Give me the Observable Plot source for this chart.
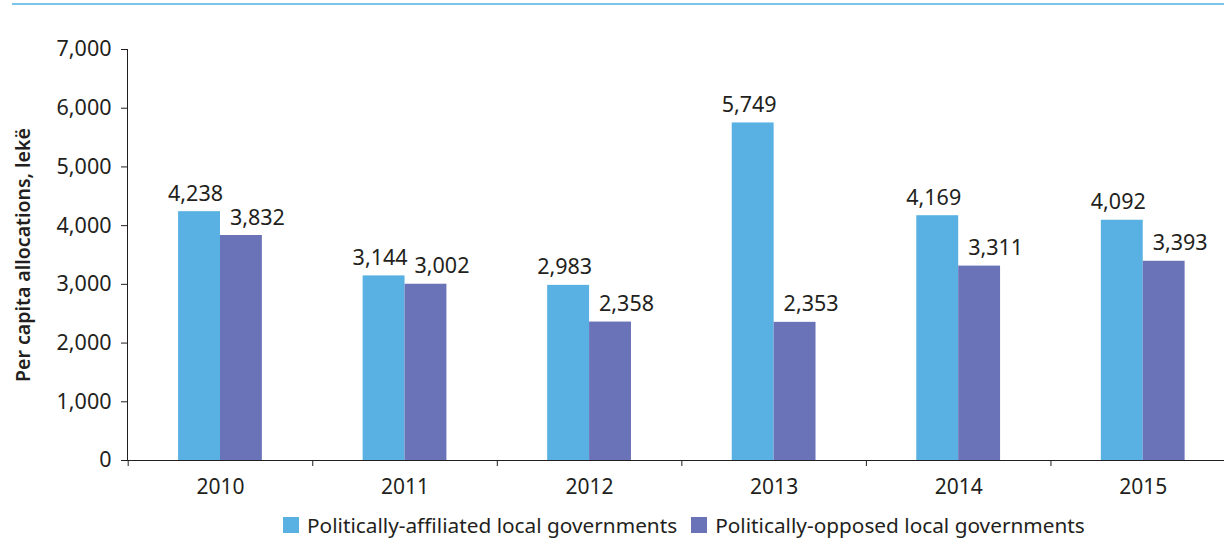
<!DOCTYPE html>
<html>
<head>
<meta charset="utf-8">
<script src="https://cdn.jsdelivr.net/npm/d3@7"></script>
<script src="https://cdn.jsdelivr.net/npm/@observablehq/plot@0.6"></script>
<style>
  html, body { margin: 0; padding: 0; background: #fff; overflow: hidden; }
  body { width: 1224px; height: 554px; position: relative; font-family: "Noto Sans", "Open Sans", sans-serif; color: #231f20; }
  #topline { position: absolute; left: 12px; top: 3px; width: 1212px; height: 2px; background: #7cc5ea; }
  #chart { position: absolute; left: 0; top: 0; }
  #legend { position: absolute; left: 283px; top: 511px; display: flex; gap: 14px; font-size: 20.8px; white-space: nowrap; }
  #legend .item { display: flex; align-items: center; gap: 8px; }
  #legend .sw { width: 16px; height: 16px; display: inline-block; }
</style>
</head>
<body>
<div id="topline"></div>
<div id="chart"></div>
<div id="legend"></div>
<script>
const years = [2010, 2011, 2012, 2013, 2014, 2015];
const seriesNames = ["Politically-affiliated local governments", "Politically-opposed local governments"];
const affiliated = [4238, 3144, 2983, 5749, 4169, 4092];
const opposed = [3832, 3002, 2358, 2353, 3311, 3393];
const colors = ["#58b0e3", "#6a73b8"];
const yTicks = [0, 1000, 2000, 3000, 4000, 5000, 6000, 7000];

const data = [];
years.forEach((yr, i) => {
  data.push({year: yr, series: seriesNames[0], value: affiliated[i], side: 0});
  data.push({year: yr, series: seriesNames[1], value: opposed[i], side: 1});
});
const barW = 0.227;
const boundaries = years.map(y => y - 0.5).concat([years[years.length - 1] + 0.5]);
const fmt = d3.format(",");
const font = "'Noto Sans', 'Open Sans', sans-serif";

const plot = Plot.plot({
  width: 1224,
  height: 505,
  marginTop: 49,
  marginBottom: 45,
  marginLeft: 127,
  marginRight: 0,
  style: {fontFamily: font, fontSize: "21px", color: "#231f20", background: "transparent", overflow: "hidden"},
  x: {domain: [2009.5, 2015.5], range: [127.7, 1235]},
  y: {domain: [0, 7000]},
  color: {domain: seriesNames, range: colors},
  marks: [
    Plot.rectY(data, {
      x1: d => d.side === 0 ? d.year - barW : d.year,
      x2: d => d.side === 0 ? d.year : d.year + barW,
      y1: 0,
      y2: "value",
      fill: "series"
    }),
    Plot.text(data.filter(d => d.side === 0), {
      x: d => d.year - barW / 2,
      y: "value",
      text: d => fmt(d.value),
      lineAnchor: "bottom",
      dy: -11,
      dx: -4,
      fontSize: 21.5,
      fill: "#231f20"
    }),
    Plot.text(data.filter(d => d.side === 1), {
      x: d => d.year + barW / 2,
      y: "value",
      text: d => fmt(d.value),
      lineAnchor: "bottom",
      dy: -11,
      dx: 16,
      fontSize: 21.5,
      fill: "#231f20"
    }),
    Plot.axisY({
      ticks: yTicks,
      tickFormat: fmt,
      tickSize: 6,
      tickPadding: 10,
      fontSize: 21.5,
      stroke: "#231f20",
      label: null
    }),
    Plot.text(["Per capita allocations, lekë"], {
      frameAnchor: "left",
      textAnchor: "middle",
      dx: -104,
      rotate: -90,
      fontSize: 19.5,
      fontWeight: 600,
      fill: "#231f20"
    }),
    Plot.axisX({
      ticks: boundaries,
      tickFormat: () => "",
      tickSize: 6,
      stroke: "#231f20",
      label: null
    }),
    Plot.axisX({
      ticks: years,
      tickFormat: d => String(d),
      tickSize: 0,
      tickPadding: 19,
      fontSize: 21,
      label: null
    }),
    Plot.frame({anchor: "left", stroke: "#231f20"}),
    Plot.ruleY([0], {stroke: "#231f20", strokeWidth: 1.2})
  ]
});
document.getElementById("chart").appendChild(plot);

const legend = document.getElementById("legend");
seriesNames.forEach((name, i) => {
  const item = document.createElement("div");
  item.className = "item";
  const sw = document.createElement("span");
  sw.className = "sw";
  sw.style.background = colors[i];
  const label = document.createElement("span");
  label.textContent = name;
  item.appendChild(sw);
  item.appendChild(label);
  legend.appendChild(item);
});
</script>
</body>
</html>
